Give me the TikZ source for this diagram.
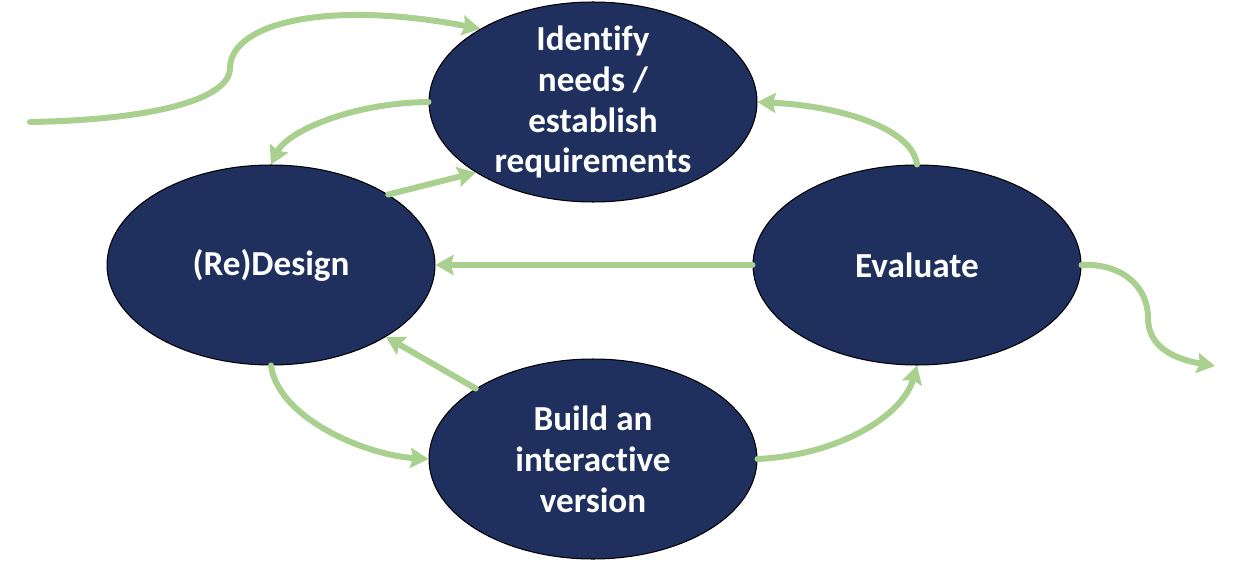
\documentclass[tikz,border=0pt]{standalone}
\usepackage{fontspec}
\setmainfont{Carlito}[Ligatures=NoCommon]
\usepackage{tikz}
\usetikzlibrary{arrows.meta,shapes.geometric}

\definecolor{navy}{RGB}{31,48,94}
\definecolor{leaf}{RGB}{169,208,142}

\begin{document}
\begin{tikzpicture}[
      x=0.02cm, y=-0.02cm,
      phase/.style={ellipse, draw=black, line width=0.6pt, fill=navy,
        minimum width=6.56cm, minimum height=4cm, inner sep=0pt},
      caption/.style={text=white, align=center,
        font=\fontsize{20}{23.3}\selectfont\bfseries},
      arr/.style={draw=leaf, line width=0.12cm, line cap=round,
        -{Stealth[length=0.36cm, width=0.4cm, inset=0.05cm]}},
    ]
    \useasboundingbox (0,0) rectangle (1236,564);
    \node[phase, label={[caption]center:Identify\\needs /\\establish\\requirements}] (need) at (593,102) {};
    \node[phase, label={[caption]center:(Re)Design}] (design) at (271,265) {};
    \node[phase, label={[caption]center:Evaluate}] (eval) at (917,265) {};
    \node[phase, label={[caption]center:Build an\\interactive\\version}] (build) at (593,459) {};
    \coordinate (start) at (30,122);
    \coordinate (finish) at (1215,366);
    \draw[arr] (start) .. controls (150,120) and (230,100) .. (230,68)
      .. controls (231,22) and (330,0) .. (need.147);
    \draw[arr] (need.west) .. controls (350,103) and (287,132) .. (design.north);
    \draw[arr] (design.31) -- (need.211);
    \draw[arr] (eval.north) .. controls (912,128) and (840,106) .. (need.east);
    \draw[arr] (eval.west) -- (design.east);
    \draw[arr] (eval.east) .. controls (1120,263) and (1148,285) .. (1148,318)
      .. controls (1148,350) and (1180,360) .. (finish);
    \draw[arr] (design.south) .. controls (278,418) and (365,455) .. (build.west);
    \draw[arr] (build.149) -- (design.328);
    \draw[arr] (build.east) .. controls (840,455) and (903,415) .. (eval.south);
  \end{tikzpicture}
\end{document}
